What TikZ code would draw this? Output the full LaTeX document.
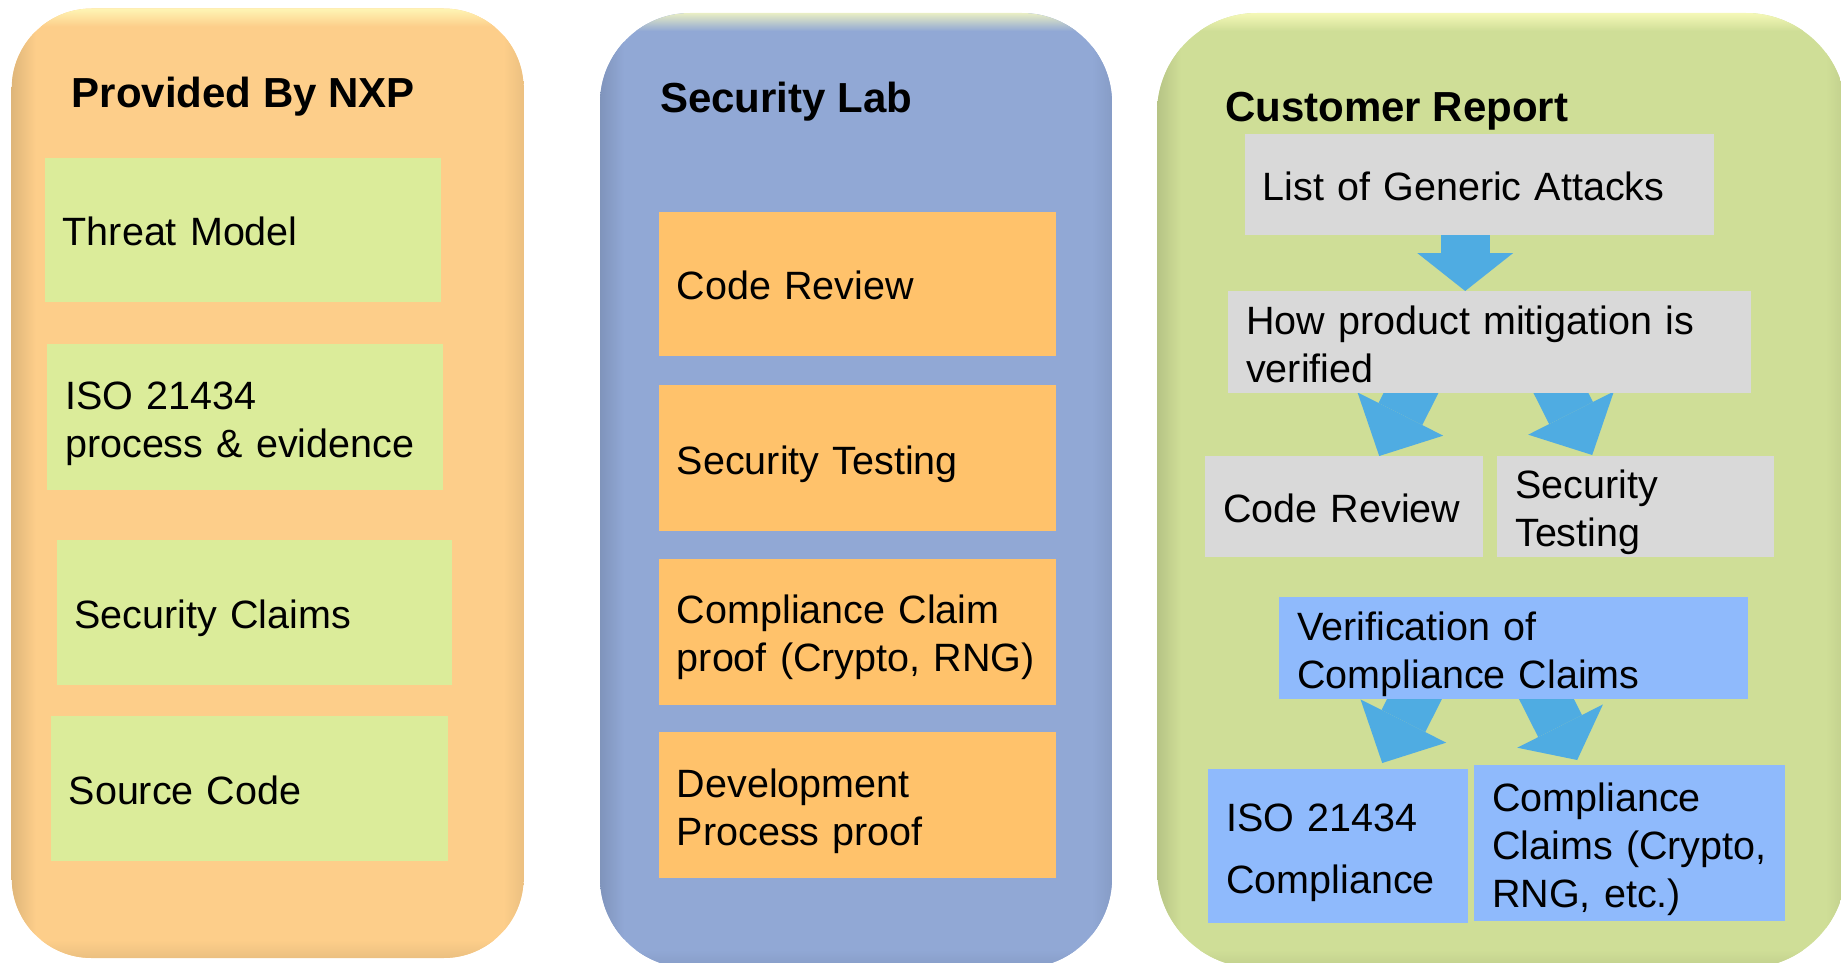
\documentclass[tikz,border=0pt]{standalone}
\usepackage{fontspec}
\setmainfont{Liberation Sans}
\usetikzlibrary{arrows.meta,calc}

\definecolor{nxpPanel}{RGB}{253,206,138}
\definecolor{labPanel}{RGB}{145,168,213}
\definecolor{custPanel}{RGB}{207,222,151}
\definecolor{greenCell}{RGB}{219,236,154}
\definecolor{orangeCell}{RGB}{255,194,107}
\definecolor{grayCell}{RGB}{217,217,217}
\definecolor{blueCell}{RGB}{143,186,252}
\definecolor{flowBlue}{RGB}{79,172,226}

\pgfdeclarelayer{panels}
\pgfdeclarelayer{links}
\pgfsetlayers{panels,links,main}

% soft rounded column: colour, corner radius, x1, y1, x2, y2
\newcommand{\softpanel}[6]{%
  \begin{scope}
    \clip[rounded corners=#2] (#3,#4) rectangle (#5,#6);
    \fill[#1] (#3,#4) rectangle (#5,#6);
    \shade[left color=#1!88!black, right color=#1] (#3,#4) rectangle (#3+24,#6);
    \shade[left color=#1, right color=#1!93!black] (#5-20,#4) rectangle (#5,#6);
    \shade[top color=#1!50!yellow!40!white, bottom color=#1] (#3,#4) rectangle (#5,#4+18);
    \shade[top color=#1, bottom color=#1!93!black] (#3,#6-18) rectangle (#5,#6);
  \end{scope}}

\tikzset{
  cell/.style={rectangle, anchor=north west, inner xsep=0pt, inner ysep=0pt,
    align=left, font=\fontsize{39.5}{48}\selectfont,
    execute at begin node={\leftskip=18pt\relax\rule{0pt}{41pt}},
    execute at end node={\rule[-9pt]{0pt}{9pt}}},
  sz/.style 2 args={text width=#1, minimum height=#2},
  heading/.style={anchor=base west, inner sep=0pt,
    font=\fontsize{42}{50}\selectfont\bfseries},
  flow/.style={draw=flowBlue, line width=49pt,
    -{Triangle[length=#1, width=96pt, line width=0pt]}},
  flow/.default=47pt
}

\begin{document}
\begin{tikzpicture}[x=1pt, y=-1pt]
\useasboundingbox (0,0) rectangle (1841,963);

\begin{pgfonlayer}{panels}
  \softpanel{nxpPanel}{80}{11.7}{8.5}{523.6}{958}
  \softpanel{labPanel}{90}{600}{13}{1112}{968}
  \softpanel{custPanel}{100}{1157}{13}{1846}{968}
\end{pgfonlayer}

% column titles
\node[heading] (tnxp) at (71.6,108) {Provided By NXP};
\node[heading] (tlab) at (660,113) {Security Lab};
\node[heading] (tcust) at (1225,122) {Customer Report};

% provided by NXP
\node[cell, sz={395.7}{144.4}, fill=greenCell] (tm) at (44.6,157.3) {Threat Model};
\node[cell, sz={395.6}{145.6}, fill=greenCell] (isoproc) at (47,344) {ISO 21434\\process \& evidence};
\node[cell, sz={395.6}{144.5}, fill=greenCell] (claims) at (56.4,540) {Security Claims};
\node[cell, sz={396.8}{144.6}, fill=greenCell] (src) at (50.5,716) {Source Code};

% security lab
\node[cell, sz={396.8}{144.4}, fill=orangeCell] (labcr) at (658.7,211.3) {Code Review};
\node[cell, sz={396.8}{145.7}, fill=orangeCell] (labst) at (658.7,385) {Security Testing};
\node[cell, sz={396.8}{145.6}, fill=orangeCell] (labccp) at (658.7,558.9) {Compliance Claim\\proof (Crypto, RNG)};
\node[cell, sz={396.8}{146.7}, fill=orangeCell] (labdev) at (658.7,731.5) {Development\\Process proof};

% customer report
\node[cell, sz={469}{101}, fill=grayCell] (la) at (1244.5,133.8) {List of Generic Attacks};
\node[cell, sz={523}{102}, fill=grayCell] (hp) at (1228,291) {How product mitigation is\\verified};
\node[cell, sz={278}{101}, fill=grayCell] (cr) at (1205,456) {Code Review};
\node[cell, sz={277}{101}, fill=grayCell] (st) at (1497,456) {Security\\Testing};
\node[cell, sz={469}{102}, fill=blueCell] (vc) at (1279,597) {Verification of\\Compliance Claims};
\node[cell, sz={260}{154}, fill=blueCell] (iso) at (1208,769) {ISO 21434\\[14pt]Compliance};
\node[cell, sz={311}{156}, fill=blueCell] (cc) at (1474,765) {Compliance\\Claims (Crypto,\\RNG, etc.)};

% block arrows between the report steps
\begin{pgfonlayer}{links}
  \draw[flow=38pt] ([xshift=-14,yshift=4]la.south) -- ([xshift=-24.5]hp.north);
  \draw[flow] ([xshift=-67.3,yshift=23]hp.south) -- ([xshift=35]cr.north);
  \draw[flow] ([xshift=59.8,yshift=23]hp.south) -- ([xshift=-43.5,yshift=1]st.north);
  \draw[flow] ([xshift=-87.8,yshift=23]vc.south) -- ([xshift=44,yshift=6]iso.north);
  \draw[flow=38pt] ([xshift=21.3,yshift=23]vc.south) -- ([xshift=-52.5,yshift=5]cc.north);
\end{pgfonlayer}
\end{tikzpicture}
\end{document}
